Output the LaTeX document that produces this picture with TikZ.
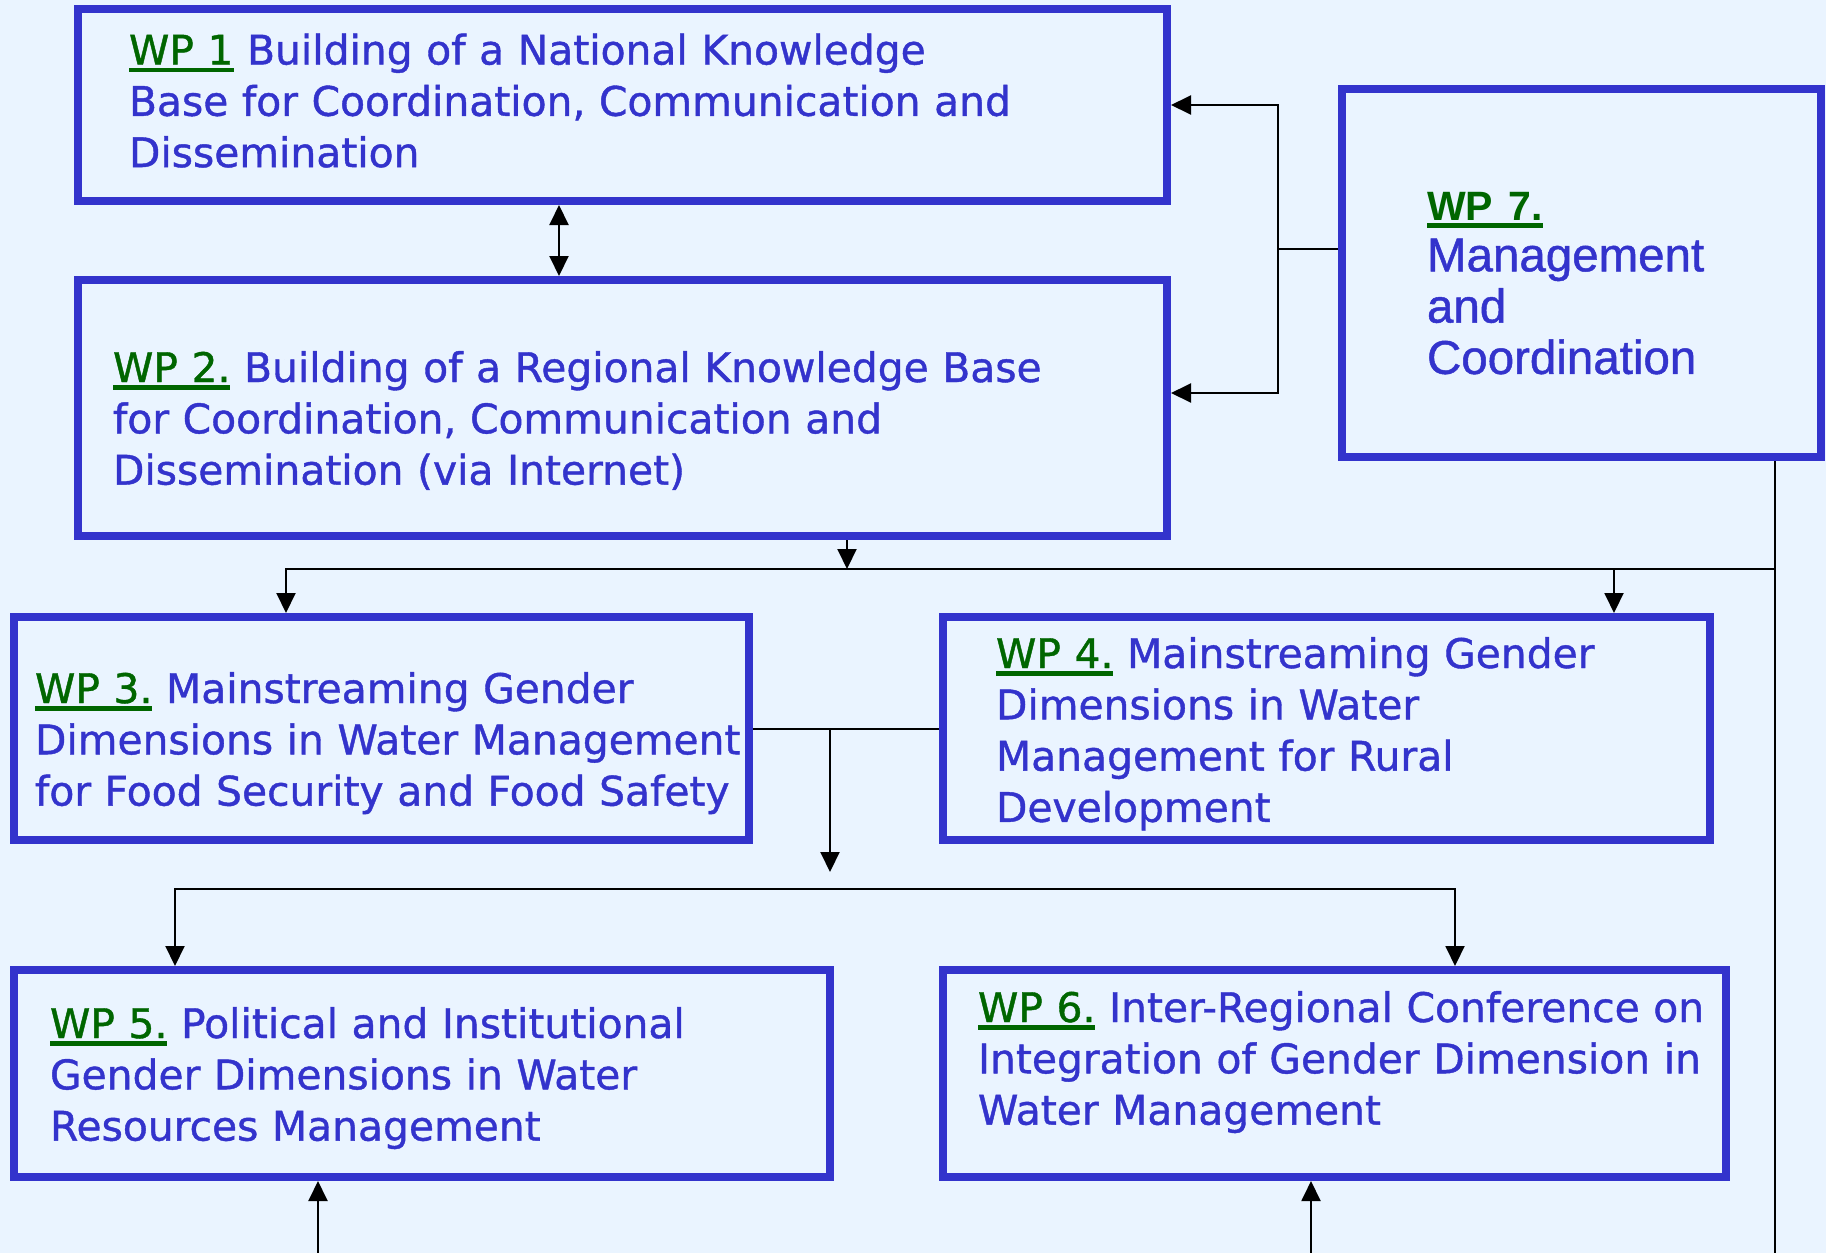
\documentclass[tikz,border=0pt]{standalone}
\usepackage{fontspec}
\setmainfont[FakeBold=1]{DejaVu Sans}
\newfontfamily\arialfont[FakeBold=1]{Liberation Sans}
\newfontfamily\arialbold{Liberation Sans Bold}
\usetikzlibrary{arrows.meta}
\definecolor{bgcol}{RGB}{234,244,255}
\definecolor{boxblue}{RGB}{51,51,204}
\definecolor{wpgreen}{RGB}{0,102,0}
\newcommand\wpl[1]{{\color{wpgreen}\setbox0=\hbox{#1}\rlap{\rule[-7.5pt]{\wd0}{4.5pt}}\box0}}
\tikzset{
  wpbox/.style={draw=boxblue, line width=8pt, inner sep=0pt, rectangle},
  wptext/.style={anchor=base west, inner sep=0pt, outer sep=0pt, text width=1000pt, align=left, text=boxblue, font=\fontsize{40.8}{51.3}\selectfont},
  wpseven/.style={wptext, font=\arialfont\fontsize{47.5}{51.3}\selectfont},
  conn/.style={line width=2pt, draw=black},
  tip/.tip={Triangle[length=20pt,width=19pt]},
  arr/.style={conn, -tip},
  busline/.style={conn, line cap=rect},
}
\begin{document}
\begin{tikzpicture}[x=1pt,y=-1pt]
\fill[bgcol] (0,0) rectangle (1826,1253);
\useasboundingbox (0,0) rectangle (1826,1253);

% boxes
\node[wpbox, minimum width=1089pt, minimum height=192pt] (wp1) at (622.5,105) {};
\node[wpbox, minimum width=1089pt, minimum height=256pt] (wp2) at (622.5,408) {};
\node[wpbox, minimum width=479pt, minimum height=368pt] (wp7) at (1581.5,273) {};
\node[wpbox, minimum width=735pt, minimum height=223pt] (wp3) at (381.5,728.5) {};
\node[wpbox, minimum width=767pt, minimum height=223pt] (wp4) at (1326.5,728.5) {};
\node[wpbox, minimum width=816pt, minimum height=207pt] (wp5) at (422,1073.5) {};
\node[wpbox, minimum width=783pt, minimum height=207pt] (wp6) at (1334.5,1073.5) {};

% texts
\node[wptext] (t1) at (129,64.5) {\wpl{WP 1} Building of a National Knowledge\\Base for Coordination, Communication and\\Dissemination};
\node[wptext] (t2) at (113,382) {\wpl{WP 2.} Building of a Regional Knowledge Base\\for Coordination, Communication and\\Dissemination (via Internet)};
\node[wptext] (t3) at (35,703) {\wpl{WP 3.} Mainstreaming Gender\\Dimensions in Water Management\\for Food Security and Food Safety};
\node[wptext] (t4) at (996,668) {\wpl{WP 4.} Mainstreaming Gender\\Dimensions in Water\\Management for Rural\\Development};
\node[wptext] (t5) at (50,1038) {\wpl{WP 5.} Political and Institutional\\Gender Dimensions in Water\\Resources Management};
\node[wptext] (t6) at (978,1022) {\wpl{WP 6.} Inter-Regional Conference on\\Integration of Gender Dimension in\\Water Management};
\node[wpseven] (t7) at (1427,220) {\wpl{\arialbold\fontsize{41}{51.3}\selectfont WP 7.}\\Management\\and\\Coordination};

% WP1 <-> WP2
\coordinate (c12) at (559,0);
\draw[conn, tip-tip] (wp1.south -| c12) -- (wp2.north -| c12);

% WP7 -> WP1, WP2
\coordinate (j7) at (1278,249);
\coordinate (a2) at (1278,393);
\draw[conn] (wp7.west |- j7) -- (j7);
\draw[arr] (j7) |- (wp1.east);
\draw[arr] (j7) |- (wp2.east |- a2);

% WP2 -> bus -> WP3, WP4 ; WP7 line
\coordinate (bus1L) at (286,569);
\coordinate (bus1R) at (1775,569);
\coordinate (c2) at (847,569);
\coordinate (c4) at (1614,569);
\coordinate (bot) at (0,1253);
\draw[arr] (wp2.south -| c2) -- (c2);
\draw[busline] (bus1L) -- (bus1R);
\draw[arr] (bus1L) -- (wp3.north -| bus1L);
\draw[arr] (c4) -- (wp4.north -| c4);
\draw[conn] (wp7.south -| bus1R) -- (bus1R |- bot);

% WP3 -- WP4 and down
\draw[conn] (wp3.east) -- (wp4.west);
\coordinate (t34) at (830,872);
\draw[arr] (wp3.east -| t34) -- (t34);

% bus 2 -> WP5, WP6
\coordinate (bus2L) at (175,889);
\coordinate (bus2R) at (1455,889);
\draw[busline] (bus2L) -- (bus2R);
\draw[arr] (bus2L) -- (wp5.north -| bus2L);
\draw[arr] (bus2R) -- (wp6.north -| bus2R);

% arrows up from bottom
\coordinate (u5) at (318,1253);
\coordinate (u6) at (1311,1253);
\draw[arr] (u5) -- (wp5.south -| u5);
\draw[arr] (u6) -- (wp6.south -| u6);
\end{tikzpicture}
\end{document}
